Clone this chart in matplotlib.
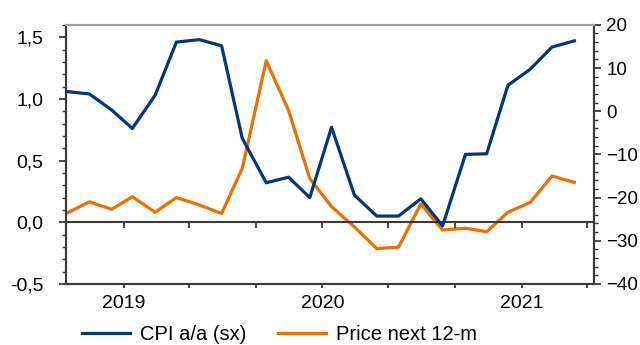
import pandas as pd
import matplotlib
matplotlib.use("Agg")
import matplotlib.pyplot as plt
import matplotlib.dates as mdates
from matplotlib.ticker import MultipleLocator, FuncFormatter

plt.rcParams['font.family'] = ['Liberation Sans', 'DejaVu Sans']

dates = pd.to_datetime([
    "2018-09-17", "2018-10-30", "2018-12-10", "2019-01-17", "2019-02-28", "2019-04-08",
    "2019-05-20", "2019-06-30", "2019-08-07", "2019-09-20", "2019-10-31", "2019-12-09",
    "2020-01-18", "2020-02-29", "2020-04-10", "2020-05-20", "2020-06-30", "2020-08-09",
    "2020-09-20", "2020-10-29", "2020-12-07", "2021-01-17", "2021-02-26", "2021-04-08",
])
cpi = [1.06, 1.04, 0.91, 0.76, 1.03, 1.46, 1.48, 1.43, 0.68, 0.32, 0.365, 0.20,
       0.77, 0.22, 0.05, 0.05, 0.19, -0.03, 0.55, 0.555, 1.11, 1.24, 1.42, 1.47]
price12 = [-23.7, -21.0, -22.7, -19.8, -23.4, -20.0, -21.7, -23.7, -13.2, 11.7, 0.2, -15.6,
           -22.1, -26.8, -31.8, -31.5, -21.5, -27.5, -27.1, -27.9, -23.4, -21.1, -15.0, -16.5]

blue = "#003878"
orange = "#EE6E00"
dark = "#3a3a3a"

fig = plt.figure(figsize=(6.4, 3.45), dpi=100)
ax = fig.add_axes([0.103, 0.177, 0.825, 0.751])
ax2 = ax.twinx()

l1, = ax.plot(dates, cpi, color=blue, lw=2.3, label="CPI a/a (sx)", zorder=3)
l2, = ax2.plot(dates, price12, color=orange, lw=2.3, label="Price next 12-m", zorder=2)
ax.set_zorder(ax2.get_zorder() + 1)
ax.patch.set_visible(False)

ymin, ymax = -0.5, 1.6
ax.set_ylim(ymin, ymax)
ax2.set_ylim(-40, 20)
ax.set_xlim(pd.Timestamp("2018-09-17"), pd.Timestamp("2021-05-14"))

ax.yaxis.set_major_locator(MultipleLocator(0.5))
ax.yaxis.set_minor_locator(MultipleLocator(0.1))
ax.yaxis.set_major_formatter(FuncFormatter(lambda v, p: f"{v:.1f}".replace(".", ",")))
ax2.yaxis.set_major_locator(MultipleLocator(10))
ax2.yaxis.set_minor_locator(MultipleLocator(2))

ax.xaxis.set_major_locator(mdates.MonthLocator(bymonth=[1, 5, 9]))
ax.xaxis.set_major_formatter(FuncFormatter(
    lambda v, p: str(mdates.num2date(v).year) if mdates.num2date(v).month == 1 else ""))

for a in (ax, ax2):
    for s in a.spines.values():
        s.set_color(dark)
        s.set_linewidth(1.5)
    a.spines['top'].set_color("#a0a0a0")
    a.tick_params(which='major', length=5, width=1.3, color=dark, labelsize=14)
    a.tick_params(which='minor', length=3, width=1.0, color=dark)
ax.tick_params(axis='y', pad=11)
ax2.tick_params(axis='y', pad=4, labelsize=13.5)
ax.tick_params(axis='x', length=3, pad=5)

# zero line with its own ticks
ax.axhline(0, color=dark, lw=1.5, zorder=1)
sec = ax.secondary_xaxis((0 - ymin) / (ymax - ymin))
sec.xaxis.set_major_locator(mdates.MonthLocator(bymonth=[1, 5, 9]))
sec.tick_params(length=4, width=1.3, color=dark, labelbottom=False)
sec.spines['bottom'].set_visible(False)

fig.legend(handles=[l1, l2], loc='center left', bbox_to_anchor=(0.1, 0.03), ncol=2,
           frameon=False, fontsize=14.5, handlelength=2.4, columnspacing=1.6, handletextpad=0.45)

fig.savefig("out.png", dpi=100)
